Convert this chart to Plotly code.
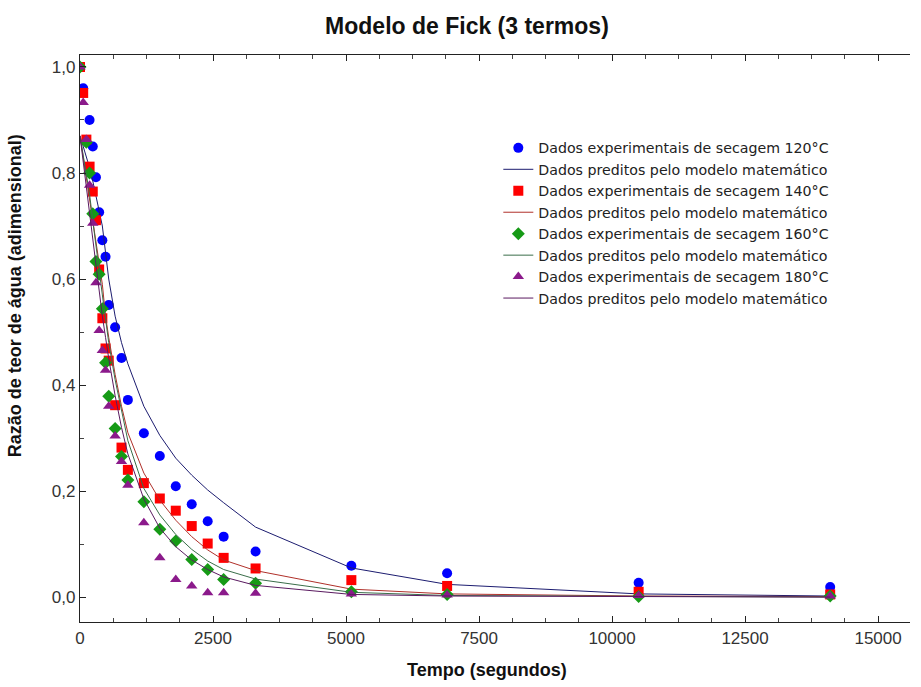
import plotly.graph_objects as go

# ---------------- data ----------------
t_120 = [0, 60, 180, 240, 300, 360, 420, 480, 540, 660, 780, 900, 1200, 1500, 1800, 2100, 2400, 2700, 3300, 5100, 6900, 10500, 14100]
exp_120 = [1.0, 0.960, 0.900, 0.850, 0.792, 0.726, 0.673, 0.642, 0.551, 0.509, 0.451, 0.372, 0.309, 0.266, 0.209, 0.175, 0.143, 0.114, 0.086, 0.059, 0.045, 0.027, 0.019]
pred_120 = [0.87, 0.85, 0.81, 0.785, 0.755, 0.725, 0.70, 0.65, 0.60, 0.53, 0.48, 0.44, 0.36, 0.305, 0.262, 0.23, 0.202, 0.178, 0.132, 0.055, 0.024, 0.006, 0.002]

t_140 = [0, 60, 120, 180, 240, 300, 360, 420, 480, 540, 660, 780, 900, 1200, 1500, 1800, 2100, 2400, 2700, 3300, 5100, 6900, 10500, 14100]
exp_140 = [1.0, 0.951, 0.863, 0.812, 0.765, 0.711, 0.618, 0.526, 0.469, 0.446, 0.362, 0.282, 0.240, 0.215, 0.186, 0.163, 0.134, 0.101, 0.074, 0.054, 0.032, 0.021, 0.010, 0.005]
pred_140 = [0.87, 0.83, 0.79, 0.75, 0.71, 0.67, 0.63, 0.59, 0.53, 0.49, 0.42, 0.36, 0.31, 0.234, 0.183, 0.145, 0.114, 0.089, 0.070, 0.050, 0.015, 0.006, 0.002, 0.001]

t_160 = [0, 120, 180, 240, 300, 360, 420, 480, 540, 660, 780, 900, 1200, 1500, 1800, 2100, 2400, 2700, 3300, 5100, 6900, 10500, 14100]
exp_160 = [1.0, 0.858, 0.800, 0.723, 0.633, 0.609, 0.544, 0.442, 0.379, 0.318, 0.265, 0.221, 0.180, 0.128, 0.106, 0.071, 0.052, 0.033, 0.026, 0.010, 0.005, 0.001, 0.002]
pred_160 = [0.87, 0.80, 0.76, 0.71, 0.66, 0.615, 0.57, 0.525, 0.48, 0.41, 0.35, 0.295, 0.205, 0.155, 0.118, 0.090, 0.068, 0.052, 0.034, 0.009, 0.003, 0.001, 0.0]

t_180 = [0, 60, 120, 180, 240, 300, 360, 420, 480, 540, 660, 780, 900, 1200, 1500, 1800, 2100, 2400, 2700, 3300, 5100, 6900, 10500, 14100]
exp_180 = [1.0, 0.933, 0.863, 0.777, 0.705, 0.593, 0.503, 0.465, 0.428, 0.360, 0.304, 0.256, 0.211, 0.140, 0.074, 0.033, 0.021, 0.008, 0.008, 0.007, 0.006, 0.004, 0.003, 0.002]
pred_180 = [0.87, 0.82, 0.77, 0.72, 0.67, 0.62, 0.575, 0.53, 0.49, 0.45, 0.38, 0.32, 0.27, 0.185, 0.130, 0.095, 0.070, 0.052, 0.038, 0.022, 0.005, 0.002, 0.001, 0.0]

x_tick_vals = [0, 2500, 5000, 7500, 10000, 12500, 15000]
x_tick_text = ["0", "2500", "5000", "7500", "10000", "12500", "15000"]
y_tick_vals = [0.0, 0.2, 0.4, 0.6, 0.8, 1.0]
y_tick_text = ["0,0", "0,2", "0,4", "0,6", "0,8", "1,0"]

exp_name = "Dados experimentais de secagem {}°C"
pred_name = "Dados preditos pelo modelo matemático"

series = [
    ("120", t_120, exp_120, pred_120, "#0000ff", "circle", 10, "#1c1c70"),
    ("140", t_140, exp_140, pred_140, "#ff0000", "square", 10, "#b0302a"),
    ("160", t_160, exp_160, pred_160, "#169a16", "diamond", 10, "#3a6e4a"),
    ("180", t_180, exp_180, pred_180, "#8b1a8b", "triangle-up", 10, "#5a1a60"),
]

FONT = "Arial, 'Liberation Sans', sans-serif"

fig = go.Figure()
for temp, t, e, p, mcol, sym, msz, lcol in series:
    fig.add_trace(go.Scatter(
        x=t, y=e, mode="markers", name=exp_name.format(temp),
        marker=dict(color=mcol, symbol=sym, size=msz, line=dict(width=0)),
    ))
    fig.add_trace(go.Scatter(
        x=t, y=p, mode="lines", name=pred_name,
        line=dict(color=lcol, width=1),
    ))

axis_common = dict(
    showgrid=False, zeroline=False, showline=True, linecolor="#222",
    linewidth=1.3, ticks="inside", ticklen=6, tickcolor="#222",
    tickfont=dict(family=FONT, size=17, color="#333"),
)

fig.update_layout(
    width=921, height=687,
    paper_bgcolor="white", plot_bgcolor="white",
    margin=dict(l=80, r=11, t=55, b=65),
    title=dict(text="<b>Modelo de Fick (3 termos)</b>", x=0.507, xref="container",
               xanchor="center", y=0.962, yref="container", yanchor="middle",
               font=dict(family=FONT, size=23, color="#111")),
    xaxis=dict(range=[0, 15600], tickvals=x_tick_vals, ticktext=x_tick_text,
               mirror="ticks",
               minor=dict(dtick=625, tick0=0, ticks="inside", ticklen=4, tickcolor="#444"),
               **axis_common),
    yaxis=dict(range=[-0.047, 1.0226], tickvals=y_tick_vals, ticktext=y_tick_text,
               minor=dict(dtick=0.1, tick0=0, ticks="inside", ticklen=4, tickcolor="#444"),
               **axis_common),
    legend=dict(x=0.504, y=0.864, xanchor="left", yanchor="top",
                bgcolor="rgba(0,0,0,0)", itemwidth=30, tracegroupgap=0,
                font=dict(family="'DejaVu Sans', Arial, sans-serif", size=14.2, color="#222")),
    showlegend=True,
    annotations=[
        dict(text="<b>Tempo (segundos)</b>", xref="paper", yref="paper",
             x=0.49, y=-0.085, xanchor="center", yanchor="middle",
             showarrow=False, font=dict(family=FONT, size=18, color="#111")),
        dict(text="<b>Razão de teor de água (adimensional)</b>", xref="paper", yref="paper",
             x=-0.078, y=0.575, xanchor="center", yanchor="middle", textangle=-90,
             showarrow=False, font=dict(family=FONT, size=18, color="#111")),
    ],
)

fig.write_html("out.html")
